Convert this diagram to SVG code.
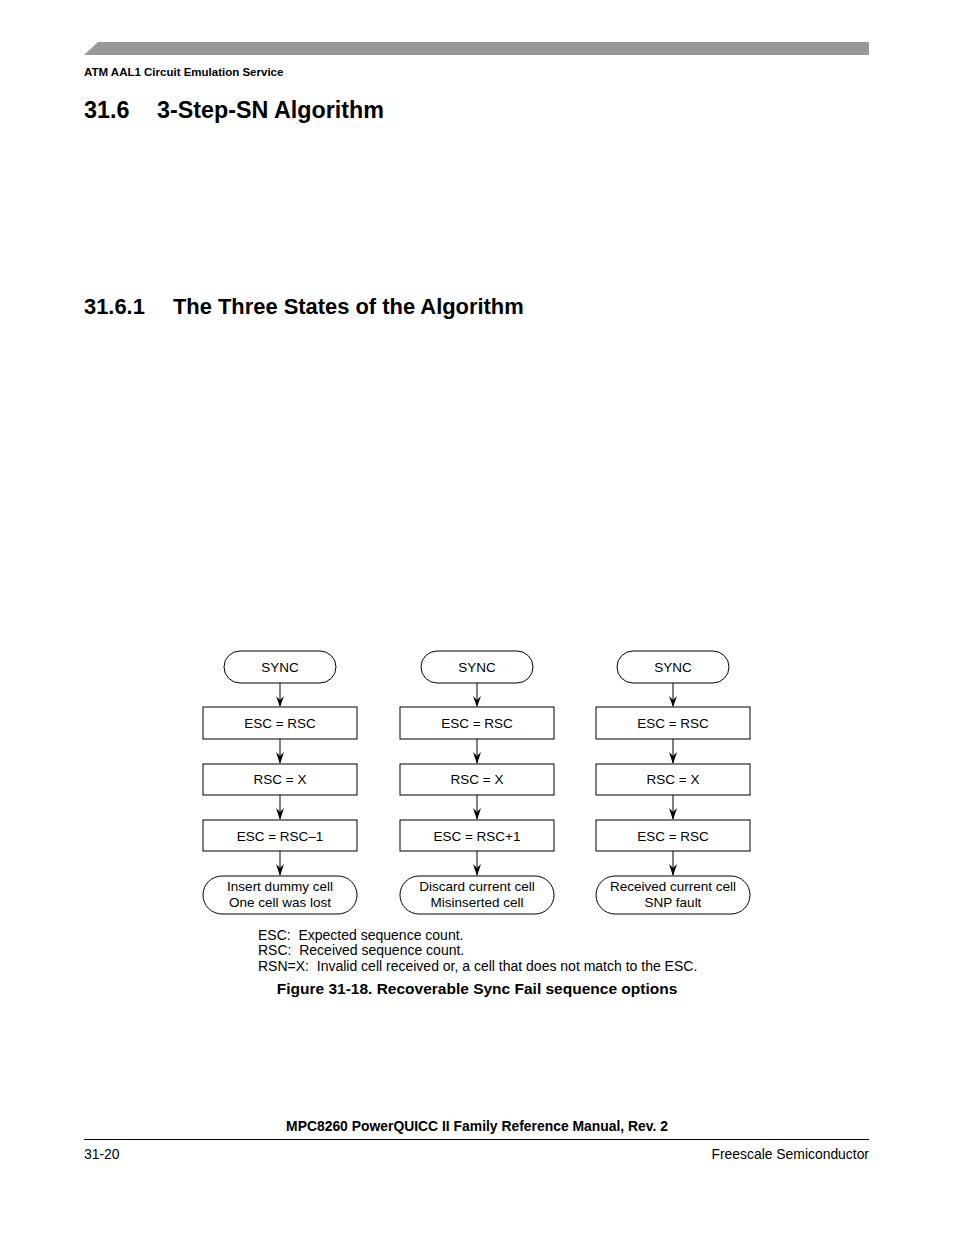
<svg xmlns="http://www.w3.org/2000/svg" width="954" height="1235" viewBox="0 0 954 1235">
<style>
text{font-family:"Liberation Sans",Arial,sans-serif;fill:#000}
.n{font-size:13.5px;text-anchor:middle}
.b{fill:#fff;stroke:#000;stroke-width:1}
</style>
<polygon points="84,55 98,42 869,42 869,55" fill="#999"/>
<text x="84" y="76" font-size="11.5" font-weight="bold">ATM AAL1 Circuit Emulation Service</text>
<text x="84" y="118" font-size="23.3" font-weight="bold">31.6</text>
<text x="157" y="118" font-size="23.3" font-weight="bold">3-Step-SN Algorithm</text>
<text x="84" y="314" font-size="21.9" font-weight="bold">31.6.1</text>
<text x="173" y="314" font-size="21.9" font-weight="bold">The Three States of the Algorithm</text>
<g id="connectors">
<path d="M280,683V706M280,739V763M280,795V819M280,851V875M477,683V706M477,739V763M477,795V819M477,851V875M673,683V706M673,739V763M673,795V819M673,851V875" stroke="#000" fill="none"/>
<g fill="#000">
<path d="M276,696L280,707L284,696L280,700Z"/><path d="M276,752L280,764L284,752L280,756Z"/><path d="M276,808L280,820L284,808L280,812Z"/><path d="M276,864L280,876L284,864L280,868Z"/>
<path d="M473,696L477,707L481,696L477,700Z"/><path d="M473,752L477,764L481,752L477,756Z"/><path d="M473,808L477,820L481,808L477,812Z"/><path d="M473,864L477,876L481,864L477,868Z"/>
<path d="M669,696L673,707L677,696L673,700Z"/><path d="M669,752L673,764L677,752L673,756Z"/><path d="M669,808L673,820L677,808L673,812Z"/><path d="M669,864L673,876L677,864L673,868Z"/>
</g></g>
<g id="s1"><rect class="b" x="224" y="651" width="112" height="32" rx="16"/><text class="n" x="280" y="672">SYNC</text></g>
<g id="s2"><rect class="b" x="421" y="651" width="112" height="32" rx="16"/><text class="n" x="477" y="672">SYNC</text></g>
<g id="s3"><rect class="b" x="617" y="651" width="112" height="32" rx="16"/><text class="n" x="673" y="672">SYNC</text></g>
<g id="a1"><rect class="b" x="203" y="707" width="154" height="32"/><text class="n" x="280" y="728">ESC = RSC</text></g>
<g id="a2"><rect class="b" x="400" y="707" width="154" height="32"/><text class="n" x="477" y="728">ESC = RSC</text></g>
<g id="a3"><rect class="b" x="596" y="707" width="154" height="32"/><text class="n" x="673" y="728">ESC = RSC</text></g>
<g id="b1"><rect class="b" x="203" y="764" width="154" height="31"/><text class="n" x="280" y="784">RSC = X</text></g>
<g id="b2"><rect class="b" x="400" y="764" width="154" height="31"/><text class="n" x="477" y="784">RSC = X</text></g>
<g id="b3"><rect class="b" x="596" y="764" width="154" height="31"/><text class="n" x="673" y="784">RSC = X</text></g>
<g id="c1"><rect class="b" x="203" y="820" width="154" height="31"/><text class="n" x="280" y="841">ESC = RSC–1</text></g>
<g id="c2"><rect class="b" x="400" y="820" width="154" height="31"/><text class="n" x="477" y="841">ESC = RSC+1</text></g>
<g id="c3"><rect class="b" x="596" y="820" width="154" height="31"/><text class="n" x="673" y="841">ESC = RSC</text></g>
<g id="e1"><rect class="b" x="203" y="876" width="154" height="38" rx="19"/><text class="n" x="280" y="891">Insert dummy cell</text><text class="n" x="280" y="907">One cell was lost</text></g>
<g id="e2"><rect class="b" x="400" y="876" width="154" height="38" rx="19"/><text class="n" x="477" y="891">Discard current cell</text><text class="n" x="477" y="907">Misinserted cell</text></g>
<g id="e3"><rect class="b" x="596" y="876" width="154" height="38" rx="19"/><text class="n" x="673" y="891">Received current cell</text><text class="n" x="673" y="907">SNP fault</text></g>
<g font-size="14">
<text x="258" y="940" xml:space="preserve">ESC:  Expected sequence count.</text>
<text x="258" y="955" xml:space="preserve">RSC:  Received sequence count.</text>
<text x="258" y="971" xml:space="preserve">RSN=X:  Invalid cell received or, a cell that does not match to the ESC.</text></g>
<text x="477" y="994" font-size="15.5" font-weight="bold" text-anchor="middle">Figure 31-18. Recoverable Sync Fail sequence options</text>
<text x="477" y="1131" font-size="13.9" font-weight="bold" text-anchor="middle">MPC8260 PowerQUICC II Family Reference Manual, Rev. 2</text>
<line x1="84" y1="1139.5" x2="869" y2="1139.5" stroke="#000"/>
<text x="84" y="1159" font-size="13.9">31-20</text>
<text x="869" y="1159" font-size="13.9" text-anchor="end">Freescale Semiconductor</text>
</svg>
